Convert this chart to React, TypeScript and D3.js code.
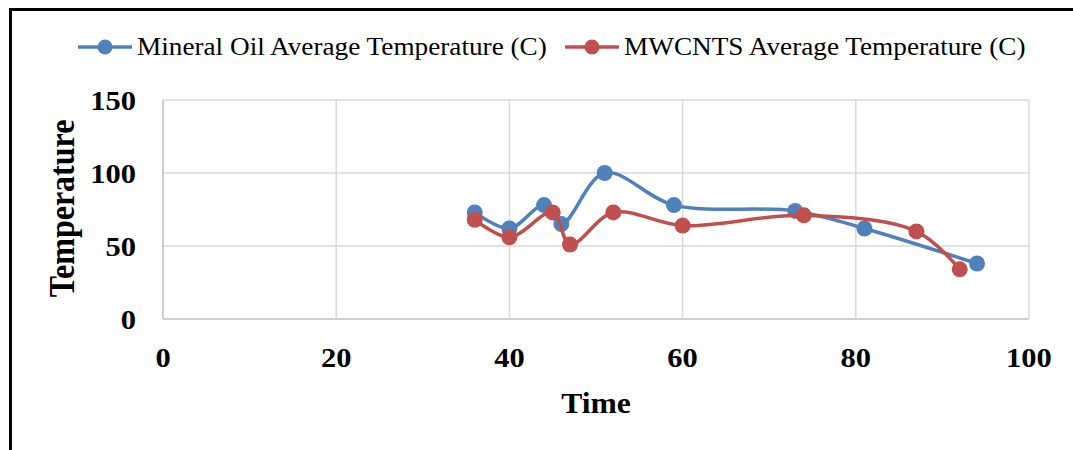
import React from "react";
import * as d3 from "d3";

const xTicks = [0, 20, 40, 60, 80, 100];
const yTicks = [0, 50, 100, 150];

const mineralTime = [36, 40, 44, 46, 51, 59, 73, 81, 94];
const mineralTemp = [73, 62, 78, 65, 100, 78, 74, 62, 38];

const mwcntsTime = [36, 40, 45, 47, 52, 60, 74, 87, 92];
const mwcntsTemp = [68, 56, 73, 51, 73, 64, 71, 60, 34];

const seriesNames = ["Mineral Oil Average Temperature (C)", "MWCNTS Average Temperature (C)"];
const colors = ["#4f81bd", "#c0504d"];

const SX = 1.09;

export default function App() {
  const W = 1073, H = 450;
  const left = 163, right = 1029, top = 100, bottom = 319;
  const x = d3.scaleLinear().domain([0, 100]).range([left, right]);
  const y = d3.scaleLinear().domain([0, 150]).range([bottom, top]);
  const line = d3
    .line<[number, number]>()
    .x((d) => x(d[0]))
    .y((d) => y(d[1]))
    .curve(d3.curveCatmullRom.alpha(0.5));

  const series = [
    mineralTime.map((t, i) => [t, mineralTemp[i]] as [number, number]),
    mwcntsTime.map((t, i) => [t, mwcntsTemp[i]] as [number, number]),
  ];

  const serif = "'Liberation Serif', 'Times New Roman', serif";
  const legendX = [78, 565];

  return (
    <svg width={W} height={H} style={{ position: "absolute", left: 0, top: 0, background: "#fff" }}>
      <rect x={10.5} y={9.5} width={1200} height={600} fill="#fff" stroke="#000" strokeWidth={3} />
      {yTicks.map((t) => (
        <line key={"gy" + t} x1={left} x2={right} y1={y(t)} y2={y(t)} stroke={t === 0 ? "#bfbfbf" : "#d9d9d9"} strokeWidth={1.5} />
      ))}
      {xTicks.map((t) => (
        <line key={"gx" + t} x1={x(t)} x2={x(t)} y1={top} y2={bottom} stroke={t === 0 ? "#bfbfbf" : "#d9d9d9"} strokeWidth={1.5} />
      ))}
      {yTicks.map((t) => (
        <text key={"ty" + t} transform={`translate(136, ${y(t) + 10}) scale(${SX}, 1)`} textAnchor="end" fontFamily={serif} fontWeight="bold" fontSize={28}>
          {t}
        </text>
      ))}
      {xTicks.map((t) => (
        <text key={"tx" + t} transform={`translate(${x(t)}, 367) scale(${SX}, 1)`} textAnchor="middle" fontFamily={serif} fontWeight="bold" fontSize={28}>
          {t}
        </text>
      ))}
      <text transform={`translate(${(left + right) / 2}, 413) scale(${SX}, 1)`} textAnchor="middle" fontFamily={serif} fontWeight="bold" fontSize={29}>
        Time
      </text>
      <text
        transform={`translate(74, ${(top + bottom) / 2 - 1}) scale(${SX}, 1) rotate(-90)`}
        textAnchor="middle"
        fontFamily={serif}
        fontWeight="bold"
        fontSize={32}
      >
        Temperature
      </text>
      {series.map((s, i) => (
        <g key={"s" + i}>
          <path d={line(s) || ""} fill="none" stroke={colors[i]} strokeWidth={3.5} />
          {s.map((d, j) => (
            <circle key={j} cx={x(d[0])} cy={y(d[1])} r={8} fill={colors[i]} />
          ))}
        </g>
      ))}
      {seriesNames.map((n, i) => (
        <g key={"l" + i}>
          <line x1={legendX[i]} x2={legendX[i] + 54} y1={47} y2={47} stroke={colors[i]} strokeWidth={3.5} />
          <circle cx={legendX[i] + 27} cy={47} r={7.5} fill={colors[i]} />
          <text transform={`translate(${legendX[i] + 59}, 55) scale(${SX}, 1)`} fontFamily={serif} fontSize={25}>
            {n}
          </text>
        </g>
      ))}
    </svg>
  );
}
